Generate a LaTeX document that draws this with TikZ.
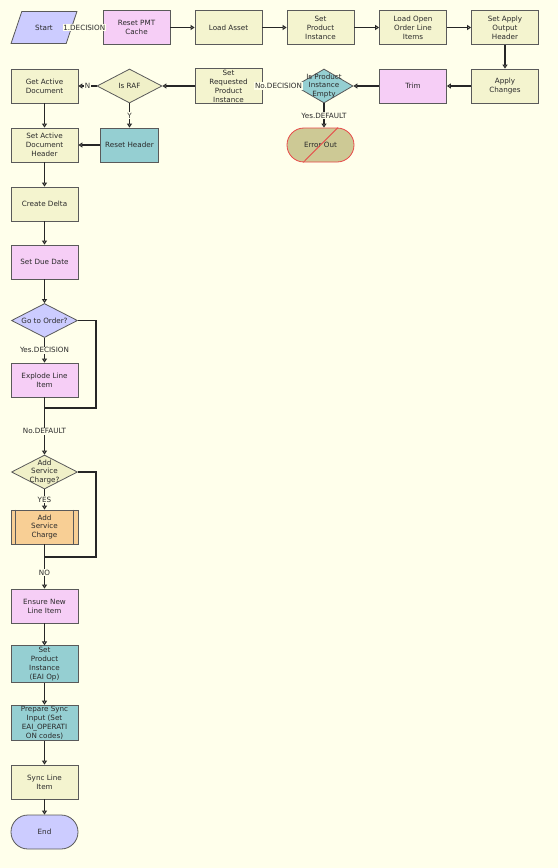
\documentclass[tikz,border=0pt]{standalone}
\usepackage{fontspec}
\setmainfont{DejaVu Sans}
\usetikzlibrary{shapes.geometric,arrows.meta}
\definecolor{bgcol}{HTML}{FFFFEB}
\definecolor{boxline}{HTML}{5A5A5A}
\definecolor{linecol}{HTML}{262626}
\definecolor{txt}{HTML}{2A2A2A}
\definecolor{boxyel}{HTML}{F4F4CF}
\definecolor{boxpink}{HTML}{F6CEF6}
\definecolor{boxteal}{HTML}{95CFD2}
\definecolor{boxlav}{HTML}{CCCCFF}
\definecolor{boxorange}{HTML}{F8CF95}
\definecolor{boxdiam}{HTML}{F0F0C8}
\definecolor{boxolive}{HTML}{CDC995}
\definecolor{errline}{HTML}{E84848}
\newcommand{\flowfont}{\fontsize{5.4}{6.7}\selectfont}
\tikzset{
  box/.style={draw=boxline, line width=0.6pt, minimum width=50.25pt, minimum height=25.5pt,
    inner sep=1pt, align=center, font=\flowfont, text=txt},
  plainbox/.style={box, fill=boxyel},
  pinkbox/.style={box, fill=boxpink},
  tealbox/.style={box, fill=boxteal},
  terminal/.style={box, rounded corners=12.7pt},
  decision/.style={diamond, draw=boxline, line width=0.6pt, inner sep=0pt,
    minimum width=49.5pt, minimum height=25.5pt},
  dtext/.style={font=\flowfont, align=center, text=txt, inner sep=0pt},
  flowline/.style={line width=1.2pt, draw=linecol},
  flow/.style={flowline, -{Triangle[open,length=3pt,width=3.8pt]}},
  tag/.style={fill=bgcol, inner sep=0.6pt, font=\flowfont, text=txt}
}
\begin{document}
\begin{tikzpicture}[x=0.75pt, y=-0.75pt]
    \fill[bgcol] (0,0) rectangle (558,868);
    \useasboundingbox (0,0) rectangle (558,868);

    \node[trapezium, trapezium left angle=66, trapezium right angle=114, trapezium stretches=true,
      draw=boxline, line width=0.6pt, fill=boxlav, minimum width=49.5pt, minimum height=24pt,
      font=\flowfont, text=txt] (start) at (44,27.5) {Start};
    \node[pinkbox] (reset) at (136.5,27.5) {Reset PMT\\Cache};
    \node[plainbox] (loadasset) at (228.5,27.5) {Load Asset};
    \node[plainbox] (setprod) at (320.5,27.5) {Set\\Product\\Instance};
    \node[plainbox] (loadopen) at (413,27.5) {Load Open\\Order Line\\Items};
    \node[plainbox] (setapply) at (505,27.5) {Set Apply\\Output\\Header};

    \node[plainbox] (applych) at (505,86) {Apply\\Changes};
    \node[pinkbox] (trim) at (413,86) {Trim};
    \node[decision, fill=boxteal, minimum width=43.5pt] (isempty) at (324,86) {};
    \node[dtext] at (isempty) {Is Product\\Instance\\Empty};
    \node[plainbox] (setreq) at (228.5,86) {Set\\Requested\\Product\\Instance};
    \node[decision, fill=boxdiam, minimum width=48.75pt] (israf) at (129.5,86) {};
    \node[dtext] at (israf) {Is RAF};
    \node[plainbox] (getdoc) at (44.5,86) {Get Active\\Document};

    \node[terminal, fill=boxolive, draw=errline] (errout) at (320.5,145) {Error Out};
    \draw[errline, line width=0.6pt] ([xshift=-13pt]errout.south) -- ([xshift=13pt]errout.north);
    \node[tealbox, minimum width=43.5pt] (resethdr) at (129.5,145) {Reset Header};
    \node[plainbox] (sethdr) at (44.5,145) {Set Active\\Document\\Header};

    \node[plainbox] (delta) at (44.5,204) {Create Delta};
    \node[pinkbox] (duedate) at (44.5,262) {Set Due Date};
    \node[decision, fill=boxlav] (toorder) at (44.5,320.5) {};
    \node[dtext] at (toorder) {Go to Order?};
    \node[pinkbox] (explode) at (44.5,380) {Explode Line\\Item};
    \node[decision, fill=boxdiam] (addq) at (44.5,472) {};
    \node[dtext] at (addq) {Add\\Service\\Charge?};
    \node[box, fill=boxorange] (addsc) at (44.5,527) {Add\\Service\\Charge};
    \draw[boxline, line width=0.6pt] ([xshift=3.5pt]addsc.north west) -- ([xshift=3.5pt]addsc.south west);
    \draw[boxline, line width=0.6pt] ([xshift=-3.5pt]addsc.north east) -- ([xshift=-3.5pt]addsc.south east);
    \node[pinkbox] (ensure) at (44.5,606) {Ensure New\\Line Item};
    \node[tealbox] (seteai) at (44.5,664) {Set\\Product\\Instance\\(EAI Op)};
    \node[tealbox] (prepare) at (44.5,723) {Prepare Sync\\Input (Set\\EAI\_OPERATI\\ON codes)};
    \node[plainbox] (syncli) at (44.5,782) {Sync Line\\Item};
    \node[terminal, fill=boxlav] (end) at (44.5,832) {End};

    \coordinate (j1) at (44.5,408);
    \coordinate (j2) at (44.5,557);

    \draw[flow] (start) -- node[tag, pos=0.4] {1.DECISION} (reset);
    \draw[flow] (reset) -- (loadasset);
    \draw[flow] (loadasset) -- (setprod);
    \draw[flow] (setprod) -- (loadopen);
    \draw[flow] (loadopen) -- (setapply);
    \draw[flow] (setapply) -- (applych);
    \draw[flow] (applych) -- (trim);
    \draw[flow] (trim) -- (isempty);
    \draw[flow] (isempty) -- node[tag] {No.DECISION} (setreq);
    \draw[flow] (isempty.south) -- node[tag] {Yes.DEFAULT} (errout.north -| isempty.south);
    \draw[flow] (setreq) -- (israf);
    \draw[flow] (israf) -- node[tag] {N} (getdoc);
    \draw[flow] (israf) -- node[tag] {Y} (resethdr);
    \draw[flow] (resethdr) -- (sethdr);
    \draw[flow] (getdoc) -- (sethdr);
    \draw[flow] (sethdr) -- (delta);
    \draw[flow] (delta) -- (duedate);
    \draw[flow] (duedate) -- (toorder);
    \draw[flow] (toorder) -- node[tag] {Yes.DECISION} (explode);
    \draw[flowline] (toorder.east) -- ++(18,0) |- (j1);
    \draw[flowline] (explode) -- (j1);
    \draw[flow] (j1) -- node[tag] {No.DEFAULT} (addq);
    \draw[flow] (addq) -- node[tag] {YES} (addsc);
    \draw[flowline] (addq.east) -- ++(18,0) |- (j2);
    \draw[flowline] (addsc) -- (j2);
    \draw[flow] (j2) -- node[tag] {NO} (ensure);
    \draw[flow] (ensure) -- (seteai);
    \draw[flow] (seteai) -- (prepare);
    \draw[flow] (prepare) -- (syncli);
    \draw[flow] (syncli) -- (end);
  \end{tikzpicture}
\end{document}
